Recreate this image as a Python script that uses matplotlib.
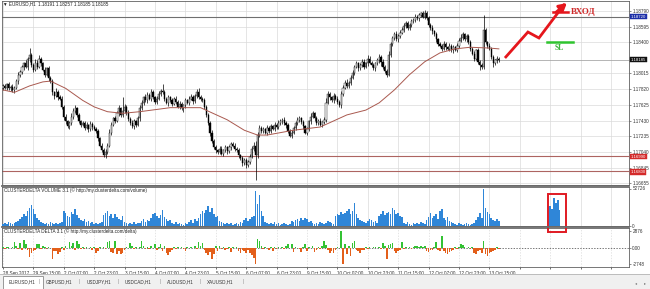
import numpy as np
import matplotlib
matplotlib.use("Agg")
import matplotlib.pyplot as plt
from matplotlib.patches import Rectangle

# ---------------- data (prices in pips above 1.16000) ----------------
BASE, PIP = 1.16, 0.0001
close_pips = [
    186, 184, 188, 183, 185, 181, 184, 192, 199, 203,
    209, 214, 210, 219, 224, 212, 206, 215, 210, 219,
    214, 206, 200, 208, 196, 192, 178, 174, 179, 172,
    170, 160, 148, 142, 136, 140, 148, 155, 158, 150,
    142, 138, 140, 134, 137, 132, 139, 135, 133, 130,
    121, 112, 107, 100, 104, 112, 128, 138, 146, 143,
    152, 158, 150, 155, 160, 153, 145, 140, 136, 142,
    138, 146, 158, 165, 172, 168, 175, 170, 178, 172,
    166, 170, 176, 180, 178, 170, 165, 172, 168, 164,
    170, 166, 160, 163, 158, 162, 168, 165, 170, 172,
    167, 174, 178, 172, 170, 168, 160, 150, 140, 128,
    118, 110, 106, 104, 108, 102, 106, 110, 105, 110,
    114, 112, 108, 106, 100, 96, 90, 94, 88, 92,
    98, 108, 112, 100, 125, 134, 130, 132, 128, 134,
    130, 136, 133, 138, 135, 140, 142, 144, 140, 137,
    130, 124, 128, 134, 140, 144, 146, 141, 136, 128,
    132, 142, 148, 152, 146, 140, 143, 138, 141, 144,
    165, 176, 172, 168, 174, 170, 166, 162, 176, 184,
    190, 186, 190, 196, 202, 210, 214, 208, 212, 216,
    210, 214, 220, 215, 212, 208, 214, 218, 222, 216,
    210, 204, 200, 225, 238, 246, 250, 244, 248, 252,
    256, 260, 264, 258, 262, 266, 268, 272, 270, 274,
    276, 272, 277, 270, 262, 258, 254, 250, 244, 238,
    236, 232, 238, 234, 232, 236, 230, 234, 231, 236,
    242, 246, 250, 244, 248, 240, 232, 226, 220, 230,
    216, 212, 210, 255, 240, 236, 232, 222, 214, 218,
    220, 218,
]
first_open_pips = 184
wick_up = [
    2, 3, 2, 3, 2, 4, 2, 3, 4, 3,  3, 2, 4, 3, 9, 3, 2, 4, 3, 5,
    3, 2, 4, 2, 3, 2, 3, 2, 4, 2,  3, 4, 2, 3, 2, 3, 4, 3, 4, 2,
    3, 2, 3, 2, 4, 2, 3, 2, 3, 2,  3, 2, 3, 2, 4, 3, 4, 3, 2, 3,
    3, 4, 2, 17, 3, 2, 3, 2, 4, 3, 2, 3, 4, 3, 2, 4, 3, 2, 4, 3,
    2, 3, 4, 2, 9, 3, 2, 3, 2, 3,  2, 3, 2, 4, 3, 2, 3, 2, 3, 4,
    3, 2, 4, 5, 3, 2, 3, 2, 3, 2,  3, 2, 3, 2, 3, 4, 2, 3, 2, 3,
    3, 2, 3, 2, 3, 2, 3, 2, 3, 2,  3, 4, 5, 6, 4, 3, 2, 3, 2, 3,
    2, 3, 2, 3, 2, 4, 3, 2, 3, 2,  3, 2, 3, 2, 3, 4, 3, 2, 3, 2,
    3, 2, 4, 3, 2, 3, 2, 3, 2, 3,  6, 4, 3, 2, 3, 2, 3, 2, 4, 3,
    3, 4, 2, 3, 4, 2, 3, 2, 3, 4,  3, 2, 4, 3, 2, 3, 2, 3, 4, 2,
    3, 2, 3, 4, 3, 2, 3, 4, 2, 3,  3, 4, 2, 3, 2, 3, 2, 3, 2, 3,
    2, 3, 3, 2, 3, 2, 3, 2, 3, 2,  3, 2, 4, 3, 2, 3, 2, 3, 2, 3,
    3, 4, 3, 2, 3, 2, 3, 2, 3, 2,  3, 2, 3, 19, 3, 2, 3, 2, 3, 2,
    3, 2,
]
wick_dn = [
    3, 2, 3, 2, 3, 2, 4, 2, 3, 2,  2, 3, 2, 4, 3, 2, 3, 2, 3, 2,
    3, 2, 3, 2, 4, 2, 3, 4, 2, 3,  2, 3, 4, 3, 2, 3, 2, 3, 2, 3,
    2, 3, 2, 3, 2, 3, 2, 4, 2, 3,  3, 2, 3, 2, 4, 3, 2, 3, 2, 3,
    2, 3, 2, 3, 2, 3, 2, 3, 2, 3,  3, 2, 3, 2, 3, 2, 3, 2, 3, 2,
    2, 3, 2, 3, 2, 3, 2, 4, 2, 3,  2, 3, 2, 3, 2, 4, 3, 2, 3, 2,
    3, 2, 3, 2, 3, 2, 3, 2, 3, 4,  3, 2, 3, 2, 3, 2, 3, 2, 3, 2,
    3, 2, 3, 2, 3, 2, 3, 2, 4, 3,  3, 2, 3, 31, 4, 3, 2, 3, 2, 3,
    2, 3, 2, 3, 2, 3, 2, 3, 2, 3,  3, 2, 3, 2, 3, 2, 3, 2, 3, 2,
    3, 2, 3, 2, 3, 2, 3, 2, 3, 2,  3, 2, 3, 2, 3, 2, 3, 2, 3, 2,
    2, 3, 2, 3, 2, 3, 2, 3, 2, 3,  3, 2, 3, 2, 3, 2, 3, 2, 3, 5,
    3, 2, 3, 2, 3, 2, 3, 2, 3, 2,  2, 3, 2, 3, 2, 3, 2, 3, 2, 3,
    3, 2, 3, 2, 3, 2, 3, 2, 3, 2,  2, 3, 2, 3, 2, 3, 2, 3, 2, 3,
    3, 2, 3, 2, 3, 2, 3, 2, 3, 2,  3, 6, 3, 3, 2, 3, 2, 3, 4, 2,
    3, 2,
]
# moving average read at a few bars
ma_bars = [0, 6, 14, 21, 25, 33, 42, 48, 55, 63, 72, 88, 104, 118, 127, 134,
           139, 153, 167, 181, 191, 198, 206, 214, 222, 230, 238, 246, 256, 261]
ma_pips = [181, 178, 186, 191, 192, 183, 168, 160, 154, 152, 154, 159, 159, 144,
           131, 125, 125, 131, 135, 150, 156, 165, 181, 200, 216, 227, 232, 234,
           233, 232]

# volume (thousands)
volume_k = [
    3, 4, 3, 6, 4, 3, 4, 6, 7, 10, 13, 17, 14, 21, 25, 29, 24, 17, 11, 8,
    6, 4, 3, 4, 3, 6, 4, 3, 4, 3, 4, 6, 21, 18, 14, 13, 20, 17, 24, 15,
    11, 8, 7, 10, 6, 7, 4, 6, 3, 4, 3, 4, 6, 15, 18, 21, 14, 17, 11, 17,
    13, 10, 8, 14, 6, 4, 3, 4, 3, 6, 3, 4, 4, 7, 10, 6, 8, 7, 11, 17,
    18, 14, 11, 15, 22, 13, 10, 7, 8, 4, 3, 6, 3, 4, 3, 1, 4, 3, 6, 8,
    4, 10, 7, 11, 17, 21, 18, 22, 28, 20, 25, 17, 13, 14, 7, 6, 4, 3, 4, 3,
    4, 1, 3, 4, 3, 6, 4, 8, 11, 7, 10, 13, 14, 49, 31, 44, 21, 14, 6, 4,
    3, 4, 3, 6, 3, 4, 1, 3, 4, 3, 1, 3, 7, 6, 8, 10, 7, 11, 8, 11,
    10, 6, 7, 4, 3, 4, 3, 6, 4, 3, 4, 7, 6, 4, 3, 14, 17, 15, 20, 17,
    18, 21, 24, 17, 21, 32, 17, 11, 8, 7, 6, 4, 7, 10, 8, 6, 7, 4, 14, 17,
    21, 15, 18, 20, 17, 26, 22, 17, 18, 14, 13, 4, 3, 6, 3, 1, 4, 3, 4, 3,
    6, 4, 3, 8, 13, 18, 11, 14, 17, 10, 21, 24, 11, 8, 13, 7, 6, 4, 3, 1,
    4, 3, 1, 3, 4, 3, 1, 3, 4, 8, 13, 18, 11, 52.726, 25, 20, 17, 11, 8, 7,
    10, 7,
]
forecast_bars = [288, 289, 290, 291, 292, 293]
forecast_volume_k = [28, 24, 40, 33, 36, 22]

# cluster delta
delta = [
    100, -200, 100, 200, -100, 100, 1000, 300, -200, 800,
    -300, 1300, 600, -400, -1500, -800, -600, -400, 600, 700,
    -200, 300, 100, -200, 200, -100, -1900, -600, -500, -1000,
    -700, 200, -400, 300, -100, 1000, 400, 800, -300, 1200,
    600, -200, 100, -200, 200, -100, 100, -300, 200, -800,
    -600, 200, -100, 100, -200, 1000, 1200, -700, -900, 1100,
    -1000, -600, -1100, -800, -300, 200, -100, 900, 300, -200,
    100, -100, 200, 1200, 400, -200, 100, -200, 300, -100,
    700, -300, 200, 700, -600, 400, -900, -1200, -700, -400,
    100, -200, 200, -100, 100, -200, -600, 200, -100, 200,
    -100, 300, -200, 1000, 400, 800, -300, -900, -1200, -700,
    -1900, -1000, 300, -500, 400, -200, 100, -300, -200, 100,
    -700, 200, -100, 100, -600, -800, -300, -600, -900, -400,
    -800, -1200, -1800, -2748, 1500, 1200, 300, -200, 200, -100,
    -400, 100, -500, 100, -200, 200, -100, 100, -200, 300,
    600, -100, 600, -700, 200, -100, -200, -700, 100, 600,
    -600, 200, -100, 300, -700, -300, 100, -200, 300, 1200,
    500, -400, -800, -600, -900, -300, 200, -100, 2876, -2700,
    600, -1000, 400, -1300, 800, 1200, -400, -600, -800, -400,
    -300, 100, -200, 200, -100, 100, 200, -100, 100, -200,
    800, 300, -1900, 500, 600, 800, -500, -800, -600, -300,
    1000, -200, 200, -100, 100, -200, 100, 300, 400, 200,
    300, 200, 400, -600, -700, -400, -300, 200, 1000, -300,
    -500, 2000, -600, -800, -1000, -700, -500, -400, 100, -200,
    200, 700, 500, 200, -100, 100, -200, 200, -800, -1000,
    -500, -400, -800, 1200, -1000, -1300, -800, -700, -500, -300,
    200, -200,
]

time_labels = ["28 Sep 2017", "29 Sep 15:00", "2 Oct 07:00", "2 Oct 23:00",
               "3 Oct 15:00", "4 Oct 07:00", "4 Oct 23:00", "5 Oct 15:00",
               "6 Oct 07:00", "6 Oct 23:00", "9 Oct 15:00", "10 Oct 07:00",
               "10 Oct 23:00", "11 Oct 15:00", "12 Oct 07:00", "12 Oct 23:00",
               "13 Oct 15:00"]
price_ticks = [1.18790, 1.18595, 1.18400, 1.18015, 1.17820, 1.17625,
               1.17430, 1.17235, 1.17040, 1.16845, 1.16655]
level_resist = 1.18720
level_supports = [1.16990, 1.16800]
bid_price = 1.18185
ohlc_header = "\u25bc EURUSD,H1  1.18191 1.18257 1.18185 1.18185"

# hand-drawn trade idea (bar index, price)
arrow_bars = [264.2, 276.3, 282.1, 296.8]
arrow_prices = [1.18207, 1.18529, 1.18455, 1.18889]
entry_bars = [289.5, 297.4]
entry_price = 1.18778
sl_bars = [286.3, 300.0]
sl_price = 1.18405

tabs = ["EURUSD,H1", "GBPUSD,H1", "USDJPY,H1", "USDCAD,H1", "AUDUSD,H1", "XAUUSD,H1"]

# ---------------- figure ----------------
W, H = 650, 289
plt.rcParams['font.family'] = ['Liberation Sans', 'DejaVu Sans']
fig = plt.figure(figsize=(W / 100, H / 100), dpi=100)
fig.patch.set_facecolor('white')

def px_axes(x0, y0, x1, y1, **kw):
    return fig.add_axes([x0 / W, 1 - y1 / H, (x1 - x0) / W, (y1 - y0) / H], **kw)

XL = (-0.5, 329.5)
GRID_C = '#dadada'
FS = 3.3
vgrid = np.arange(0, 330, 16)
BLUE = '#2f86d8'
GREEN = '#33c233'
ORANGE = '#e35f1a'

# ---- main price panel
ax = px_axes(2, 1, 629, 185)
ax.set_xlim(*XL)
ax.set_ylim(1.166301, 1.189141)
closes = BASE + np.array(close_pips) * PIP
opens = BASE + np.array([first_open_pips] + close_pips[:-1]) * PIP
highs = np.maximum(opens, closes) + np.array(wick_up) * PIP
lows = np.minimum(opens, closes) - np.array(wick_dn) * PIP
idx = np.arange(len(closes))
ax.vlines(idx, lows, highs, color='black', lw=0.5, zorder=3)
bull = closes >= opens
body = np.where(np.abs(closes - opens) < 0.6 * PIP, 0.6 * PIP, closes - opens)
ax.bar(idx[bull], body[bull], bottom=opens[bull], width=0.66, color='white',
       edgecolor='black', linewidth=0.3, zorder=4)
ax.bar(idx[~bull], body[~bull], bottom=opens[~bull], width=0.66, color='black',
       edgecolor='black', linewidth=0.3, zorder=4)
ax.plot(ma_bars, BASE + np.array(ma_pips) * PIP, color='#a9594f', lw=0.7, zorder=5)

ax.axhline(level_resist, color='#6f6f6f', lw=0.8, zorder=2)
ax.axhline(bid_price, color='#a8a8a8', lw=0.6, zorder=2)
for lv in level_supports:
    ax.axhline(lv, color='#ad6461', lw=0.8, zorder=2)

ax.set_xticks(vgrid)
ax.set_yticks(price_ticks)
ax.grid(True, color=GRID_C, lw=0.5)
ax.tick_params(axis='x', length=0, labelbottom=False)
ax.yaxis.tick_right()
ax.tick_params(axis='y', length=1.2, width=0.4, pad=1.2, labelsize=FS, colors='#333333')
ax.set_yticklabels([f"{p:.5f}" for p in price_ticks])
for lab in ax.get_yticklabels():
    if lab.get_text() in ("1.17040", "1.16845"):
        lab.set_y(lab.get_position()[1] + 0.00008)
for s in ax.spines.values():
    s.set_color('#606060'); s.set_linewidth(0.6)

def price_box(p, fc, tc='white', dy=0.0):
    ax.annotate(f"{p:.5f}", xy=(1, p), xycoords=('axes fraction', 'data'),
                xytext=(1.3, dy), textcoords='offset points', va='center', ha='left',
                fontsize=3.1, color=tc, zorder=20, annotation_clip=False,
                bbox=dict(boxstyle='square,pad=0.12', fc=fc, ec=fc, lw=0.3))

price_box(level_resist, '#1c2fa8')
price_box(bid_price, '#111111')
for lv in level_supports:
    price_box(lv, '#d42a2a', dy=-0.5)

ax.text(0.002, 0.983, ohlc_header, transform=ax.transAxes, fontsize=FS,
        va='center', ha='left', color='#222222')

# hand drawn idea
ax.plot(arrow_bars[:-1] + [arrow_bars[-1] - 1.2],
        arrow_prices[:-1] + [arrow_prices[-1] - 0.00012],
        color='#e5161c', lw=2.0, solid_capstyle='butt', solid_joinstyle='miter',
        zorder=8, clip_on=False)
ax.annotate('', xy=(arrow_bars[-1], arrow_prices[-1]),
            xytext=(arrow_bars[-2] + 9, arrow_prices[-2] + 0.0032),
            arrowprops=dict(arrowstyle='-|>,head_length=0.45,head_width=0.25',
                            color='#e5161c', lw=2.0, shrinkA=0, shrinkB=0),
            zorder=9, annotation_clip=False)
ax.plot(entry_bars, [entry_price] * 2, color='#e5161c', lw=1.8, zorder=8)
ax.text(entry_bars[1] + 1.4, entry_price, "ВХОД", color='#cf2a2a', fontsize=6.5,
        family=['Liberation Serif', 'DejaVu Serif'], fontweight='bold', va='center', ha='left')
ax.plot(sl_bars, [sl_price] * 2, color='#2ec42e', lw=1.8, zorder=8)
ax.text(np.mean(sl_bars) - 0.3, sl_price - 0.00075, "SL", color='#3cb43c', fontsize=5.5,
        family=['Liberation Serif', 'DejaVu Serif'], fontweight='bold', va='center', ha='center')

# ---- volume panel
axv = px_axes(2, 187, 629, 226)
axv.set_xlim(*XL)
vol = np.array(volume_k) * 1000
axv.set_ylim(0, 52726 * 1.04)
axv.bar(idx, vol, width=0.8, color=BLUE, lw=0, zorder=3)
axv.bar(forecast_bars, np.array(forecast_volume_k) * 1000, width=0.8, color=BLUE, lw=0, zorder=3)
axv.set_xticks(vgrid)
axv.set_yticks([0, 52726])
axv.grid(True, axis='x', color=GRID_C, lw=0.5)
axv.tick_params(axis='x', length=0, labelbottom=False)
axv.yaxis.tick_right()
axv.tick_params(axis='y', length=1.2, width=0.4, pad=1.2, labelsize=FS, colors='#333333')
axv.set_yticklabels(['0', '52726'])
for s in axv.spines.values():
    s.set_color('#606060'); s.set_linewidth(0.6)
axv.text(0.003, 0.92, "CLUSTERDELTA VOLUME 3.1 (\u00a9 http://my.clusterdelta.com/volume)",
         transform=axv.transAxes, fontsize=FS, va='center', ha='left', color='#222222')

# ---- delta panel
axd = px_axes(2, 228, 629, 267)
axd.set_xlim(*XL)
axd.set_ylim(-3259, 3387)
d = np.array(delta)
axd.bar(idx, d, width=0.8, color=np.where(d >= 0, GREEN, ORANGE), lw=0, zorder=3)
axd.axhline(0, color='#404040', lw=0.5, ls=(0, (2, 2)), zorder=2)
axd.set_xticks(vgrid)
axd.grid(True, axis='x', color=GRID_C, lw=0.5, ls=(0, (2, 2)))
labels = time_labels + [''] * (len(vgrid) - len(time_labels))
axd.set_xticklabels(labels, fontsize=FS, ha='left', color='#333333')
axd.tick_params(axis='x', length=1.5, width=0.4, pad=1.2)
axd.set_yticks([-2748, 0, 2876])
axd.yaxis.tick_right()
axd.tick_params(axis='y', length=1.2, width=0.4, pad=1.2, labelsize=FS, colors='#333333')
axd.set_yticklabels(['-2748', '0.00', '2876'])
for s in axd.spines.values():
    s.set_color('#606060'); s.set_linewidth(0.6)
axd.text(0.003, 0.92, "CLUSTERDELTA DELTA 3.1 (\u00a9 http://my.clusterdelta.com/delta)",
         transform=axd.transAxes, fontsize=FS, va='center', ha='left', color='#222222')

# ---- overlay (separators, box, tabs)
ov = fig.add_axes([0, 0, 1, 1], zorder=10)
ov.set_xlim(0, W); ov.set_ylim(H, 0); ov.axis('off'); ov.patch.set_alpha(0)
for yy in (185.6, 226.6):
    ov.plot([2, 629], [yy, yy], color='#6a6a6a', lw=1.3)
ov.add_patch(Rectangle((547.5, 193.5), 18.5, 38, fill=False, ec='#e01a22', lw=1.4))
ov.add_patch(Rectangle((0, 274), W, 15, fc='#f0f0f0', ec='none'))
ov.plot([0, W], [274.3, 274.3], color='#b4b4b4', lw=0.6)
ov.add_patch(Rectangle((2.5, 275.5), 40, 13, fc='white', ec='#8a8a8a', lw=0.6))
tab_x = [22, 59, 99, 138, 180, 220]
for i, (t, tx) in enumerate(zip(tabs, tab_x)):
    ov.text(tx, 282, t, fontsize=FS, ha='center', va='center', color='#333333')
    if i > 0:
        ov.text(tx - 20, 282, "|", fontsize=FS, ha='center', va='center', color='#888888')
ov.text(243, 282, "|", fontsize=FS, ha='center', va='center', color='#888888')
ov.text(636, 283, "\u25c2", fontsize=3, ha='center', va='center', color='#777777')
ov.text(645, 283, "\u25b8", fontsize=3, ha='center', va='center', color='#777777')

fig.savefig("out.png", dpi=100, facecolor='white')
